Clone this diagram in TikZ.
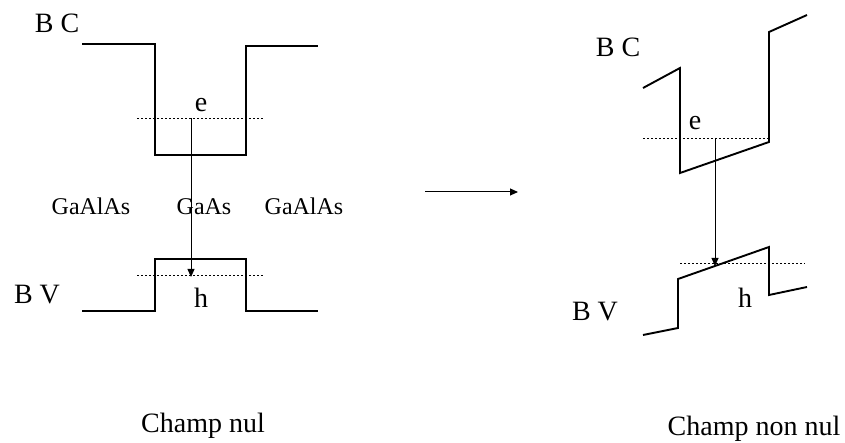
\documentclass[tikz,border=0pt]{standalone}
\usepackage{fontspec}
\setmainfont{Liberation Serif}
\usetikzlibrary{arrows.meta}
\begin{document}
\begin{tikzpicture}[x=1pt,y=-1pt,
  band/.style={line width=1.9pt,line join=miter},
  lvl/.style={line width=0.7pt,dash pattern=on 1.5pt off 2.5pt},
  trans/.style={line width=0.8pt,-{Triangle[length=8pt,width=7pt]}},
  lab/.style={font=\fontsize{28}{28}\selectfont,inner sep=0pt,anchor=base},
  mat/.style={font=\fontsize{24}{24}\selectfont,inner sep=0pt,anchor=base},
  captext/.style={font=\fontsize{28}{28}\selectfont,inner sep=0pt,anchor=base}]
\useasboundingbox (0,0) rectangle (845,443);
% ---------- left: zero field ----------
\draw[band] (82,44) -- (155,44) -- (155,155) -- (246,155) -- (246,46) -- (318,46);
\draw[band] (82,311) -- (155,311) -- (155,259) -- (246,259) -- (246,311) -- (318,311);
\draw[lvl] (137,118) -- (263,118);
\draw[lvl] (137,275) -- (263,275);
\coordinate (le) at (191,118);
\coordinate (lh) at (191,277);
\draw[trans] (le) -- (lh);
\node[lab] (bc1) at (57,33) {B C};
\node[lab] (bv1) at (37,304) {B V};
\node[lab] (e1) at (201,112) {e};
\node[lab] (h1) at (201,307) {h};
\node[mat] (m1) at (91,215) {GaAlAs};
\node[mat] (m2) at (204,215) {GaAs};
\node[mat] (m3) at (304,215) {GaAlAs};
\node[captext] (c1) at (203,432) {Champ nul};
% ---------- middle arrow ----------
\coordinate (ma) at (425,192);
\coordinate (mb) at (518,192);
\draw[line width=1pt,-{Triangle[length=8pt,width=7pt]}] (ma) -- (mb);
% ---------- right: non-zero field ----------
\draw[band] (643,88) -- (680,68) -- (680,173) -- (769,142) -- (769,32) -- (807,15);
\draw[band] (643,335) -- (678,328) -- (678,279) -- (769,247) -- (769,295) -- (807,287);
\draw[lvl] (643,138) -- (769,138);
\draw[lvl] (680,263) -- (805,263);
\coordinate (re) at (715,138);
\coordinate (rh) at (715,266);
\draw[trans] (re) -- (rh);
\node[lab] (bc2) at (618,57) {B C};
\node[lab] (bv2) at (595,320) {B V};
\node[lab] (e2) at (695,130) {e};
\node[lab] (h2) at (745,308) {h};
\node[captext] (c2) at (754,435) {Champ non nul};
\end{tikzpicture}
\end{document}
